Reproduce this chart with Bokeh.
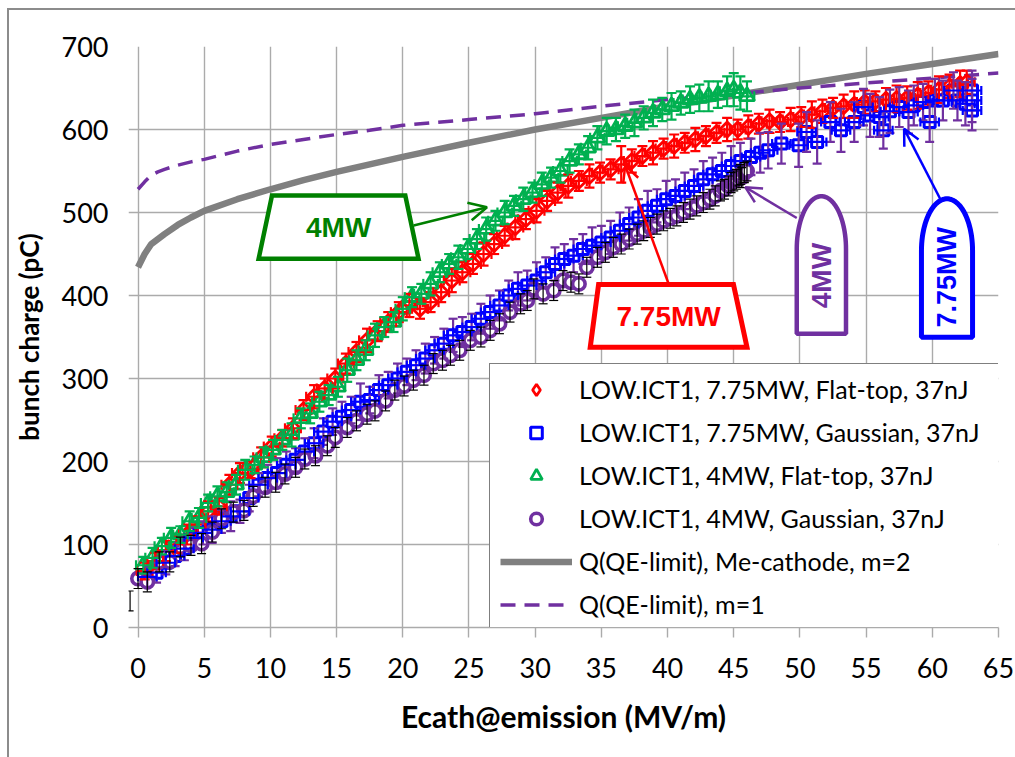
import numpy as np
from bokeh.plotting import figure
from bokeh.models import (ColumnDataSource, Whisker, TeeHead, Legend, LegendItem, Arrow,
                          OpenHead, FixedTicker, Range1d)
from bokeh.core.properties import value
from bokeh.embed import file_html
from bokeh.resources import INLINE

# ---------------- data ----------------
x_ticks = [0, 5, 10, 15, 20, 25, 30, 35, 40, 45, 50, 55, 60, 65]
y_ticks = [0, 100, 200, 300, 400, 500, 600, 700]

red_label = "LOW.ICT1, 7.75MW, Flat-top, 37nJ"
red_x = [0.5, 1.3, 2.1, 2.9, 3.7, 4.5, 5.3, 6.1, 6.9, 7.7,
         8.5, 9.3, 10.1, 10.9, 11.7, 12.5, 13.3, 14.1, 14.9, 15.7,
         16.5, 17.3, 18.1, 18.9, 19.7, 20.5, 21.3, 22.1, 22.9, 23.7,
         24.5, 25.3, 26.1, 26.9, 27.7, 28.5, 29.3, 30.1, 30.9, 31.7,
         32.5, 33.3, 34.1, 34.9, 35.7, 36.5, 37.3, 38.1, 38.9, 39.7,
         40.5, 41.3, 42.1, 42.9, 43.7, 44.5, 45.3, 46.1, 46.9, 47.7,
         48.5, 49.3, 50.1, 50.9, 51.7, 52.5, 53.3, 54.1, 54.9, 55.7,
         56.5, 57.3, 58.1, 58.9, 59.7, 60.5, 61.3, 62.1, 62.6]
red_y = [68, 80, 92, 100, 112, 124, 140, 146, 172, 186,
         190, 205, 218, 228, 240, 262, 278, 288, 300, 318,
         332, 346, 357, 368, 380, 388, 384, 392, 404, 418,
         428, 438, 450, 462, 472, 482, 492, 502, 514, 524,
         532, 538, 544, 548, 552, 558, 562, 568, 572, 577,
         580, 584, 588, 592, 596, 600, 600, 603, 607, 610,
         609, 612, 615, 618, 622, 626, 628, 630, 633, 634,
         636, 637, 638, 641, 644, 648, 652, 655, 657]
red_dy = [10, 10, 12, 10, 12, 10, 12, 10, 12, 12,
          10, 12, 12, 10, 12, 12, 14, 12, 12, 12,
          12, 14, 12, 12, 12, 14, 12, 12, 12, 14,
          12, 12, 14, 12, 12, 14, 12, 14, 12, 12,
          14, 12, 14, 12, 12, 22, 14, 12, 14, 12,
          14, 12, 14, 12, 12, 14, 12, 14, 12, 14,
          12, 14, 12, 16, 14, 12, 14, 16, 14, 12,
          14, 16, 14, 16, 14, 16, 14, 16, 14]
red_dx = 0.6

blue_label = "LOW.ICT1, 7.75MW, Gaussian, 37nJ"
blue_x = [0.7, 1.4, 2.1, 2.8, 3.5, 4.2, 4.9, 5.6, 6.3, 7.0,
          7.7, 8.4, 9.1, 9.8, 10.5, 11.2, 11.9, 12.6, 13.3, 14.0,
          14.7, 15.4, 16.1, 16.8, 17.5, 18.2, 18.9, 19.6, 20.3, 21.0,
          21.7, 22.4, 23.1, 23.8, 24.5, 25.2, 25.9, 26.6, 27.3, 28.0,
          28.7, 29.4, 30.1, 30.8, 31.5, 32.2, 32.9, 33.6, 34.3, 35.0,
          35.7, 36.4, 37.1, 37.8, 38.5, 39.2, 39.9, 40.6, 41.3, 42.0,
          42.7, 43.4, 44.1, 44.8, 45.5, 46.3, 47.0, 47.6, 48.6, 49.9,
          50.5, 51.3, 52.3, 53.1, 54.1, 54.8, 55.3, 56.0, 56.3, 56.8,
          57.5, 58.2, 58.6, 59.3, 59.8, 60.2, 60.8, 61.6, 61.9, 62.5,
          63.0, 63.0, 63.0]
blue_y = [61, 66, 78, 86, 95, 108, 114, 118, 128, 134,
          140, 156, 172, 180, 186, 196, 202, 212, 222, 236,
          248, 254, 262, 272, 274, 286, 292, 300, 308, 316,
          324, 334, 342, 352, 356, 362, 372, 380, 388, 400,
          408, 412, 418, 428, 438, 444, 448, 456, 460, 464,
          470, 478, 486, 494, 502, 508, 516, 520, 526, 532,
          540, 546, 550, 556, 562, 567, 572, 575, 583, 581,
          597, 585, 609, 599, 609, 627, 617, 615, 599, 622,
          627, 621, 629, 633, 609, 635, 635, 647, 635, 631,
          647, 635, 623]
blue_dy = [12, 12, 14, 12, 14, 12, 14, 16, 14, 18,
           14, 16, 14, 16, 18, 16, 14, 16, 18, 16,
           16, 18, 16, 22, 16, 18, 16, 18, 16, 18,
           18, 16, 18, 20, 18, 16, 18, 20, 18, 18,
           20, 18, 22, 18, 20, 18, 20, 18, 22, 20,
           20, 22, 20, 22, 24, 20, 22, 20, 22, 20,
           22, 20, 22, 24, 22, 22, 24, 22, 24, 26,
           24, 26, 24, 26, 24, 22, 26, 24, 22, 26,
           24, 26, 24, 22, 24, 26, 24, 22, 24, 26,
           24, 26, 24]
blue_dx = 0.7

green_label = "LOW.ICT1, 4MW, Flat-top, 37nJ"
green_x = [0.4, 1.1, 1.8, 2.5, 3.2, 3.9, 4.6, 5.3, 6.0, 6.7,
           7.4, 8.1, 8.8, 9.5, 10.2, 10.9, 11.6, 12.3, 13.0, 13.7,
           14.4, 15.1, 15.8, 16.5, 17.2, 17.9, 18.6, 19.3, 20.0, 20.7,
           21.4, 22.1, 22.8, 23.5, 24.2, 24.9, 25.6, 26.3, 27.0, 27.7,
           28.4, 29.1, 29.8, 30.5, 31.2, 31.9, 32.6, 33.3, 34.0, 34.7,
           35.4, 36.1, 36.8, 37.5, 38.2, 38.9, 39.6, 40.3, 41.0, 41.7,
           42.4, 43.1, 43.8, 44.5, 45.0, 45.5, 46.0]
green_y = [75, 84, 98, 108, 112, 128, 132, 150, 158, 163,
           172, 190, 196, 205, 214, 226, 232, 252, 258, 272,
           280, 290, 310, 322, 334, 352, 362, 368, 384, 398,
           402, 414, 428, 438, 446, 456, 468, 480, 490, 500,
           508, 516, 524, 534, 542, 550, 562, 570, 578, 590,
           598, 600, 604, 608, 614, 620, 624, 628, 632, 636,
           638, 640, 642, 646, 648, 644, 640]
green_dy = [10, 12, 10, 12, 10, 12, 12, 10, 12, 12,
            12, 12, 10, 12, 12, 12, 14, 12, 12, 12,
            12, 12, 14, 12, 12, 14, 12, 12, 14, 12,
            12, 14, 12, 12, 14, 12, 12, 14, 12, 14,
            12, 14, 12, 14, 12, 14, 14, 12, 14, 14,
            16, 14, 14, 16, 14, 16, 14, 16, 14, 16,
            16, 18, 16, 18, 20, 20, 18]
green_dx = 0.55

purple_label = "LOW.ICT1, 4MW, Gaussian, 37nJ"
purple_x = [0.0, 0.7, 1.6, 2.4, 3.2, 4.0, 4.8, 5.6, 6.3, 7.2,
            8.0, 8.7, 9.6, 10.4, 11.1, 11.9, 12.6, 13.4, 14.3, 14.9,
            15.8, 16.5, 17.3, 17.9, 18.7, 19.4, 20.1, 20.8, 21.6, 22.3,
            23.0, 23.6, 24.3, 25.1, 25.9, 26.6, 27.3, 28.1, 28.9, 29.4,
            29.9, 30.6, 31.4, 32.1, 32.7, 33.3, 33.9, 34.7, 35.3, 35.9,
            36.5, 37.1, 37.7, 38.2, 38.7, 39.2, 39.7, 40.2, 40.7, 41.2,
            41.7, 42.2, 42.7, 43.2, 43.6, 44.0, 44.3, 44.6, 44.8, 45.0,
            45.2, 45.4, 45.5, 45.6, 45.8, 46.0]
purple_y = [59, 55, 79, 79, 97, 99, 101, 115, 131, 139,
            141, 158, 169, 175, 185, 193, 203, 207, 219, 229,
            241, 249, 257, 261, 273, 286, 291, 298, 304, 318,
            322, 328, 334, 346, 350, 358, 366, 380, 390, 394,
            408, 402, 406, 418, 416, 414, 434, 446, 452, 458,
            462, 468, 474, 478, 482, 486, 490, 493, 496, 500,
            504, 508, 512, 516, 520, 526, 528, 532, 536, 538,
            540, 544, 546, 542, 548, 550]
purple_dy = 12

stray_x = [-0.6]
stray_lo = [20]
stray_hi = [44]

gray_label = "Q(QE-limit), Me-cathode, m=2"
gray_x = [0, 0.5, 1, 1.5, 2, 3, 4, 5, 7.5, 10, 12.5, 15, 20, 25, 30, 35, 40, 45, 50, 55, 60, 65]
gray_y = [434, 450, 462, 468, 474, 485, 494, 502, 516, 528, 539, 549, 567, 584, 600, 614,
          628, 641, 654, 667, 679, 691]

dash_label = "Q(QE-limit), m=1"
dash_x = [0, 0.5, 1, 1.5, 2, 3, 4, 5, 7.5, 10, 12.5, 15, 17.5, 20, 25, 30, 35, 40, 45, 50,
          55, 60, 65]
dash_y = [528, 537, 545, 549, 552, 557, 561, 564, 574, 582, 588, 594, 599, 605, 612, 619,
          628, 636, 643, 650, 656, 662, 668]

# ---------------- styles ----------------
RED = "#FF0000"
BLUE = "#0000FF"
GREEN = "#00B050"
PURPLE = "#7030A0"
DKGREEN = "#008000"
GRAY = "#808080"
GRID = "#ABABAB"
FONT = "Lato"
AFONT = "Liberation Sans"

# the chart sits inside a thin gray chart border whose left/top edges start at (7, 8)
p = figure(frame_width=870, frame_height=581,
           min_border_left=119, min_border_right=17, min_border_top=36, min_border_bottom=130,
           x_range=Range1d(-0.72, 65), y_range=Range1d(0, 700),
           output_backend="svg", toolbar_location=None, background_fill_color="white",
           border_fill_color="white")
p.styles = {"margin-left": "7px", "margin-top": "8px",
            "border-left": "2px solid #8C8C8C", "border-top": "2px solid #8C8C8C"}
p.outline_line_color = None

p.xaxis.ticker = FixedTicker(ticks=x_ticks)
p.yaxis.ticker = FixedTicker(ticks=y_ticks)
p.xgrid.grid_line_color = GRID
p.ygrid.grid_line_color = GRID
p.xgrid.grid_line_width = 1.4
p.ygrid.grid_line_width = 1.4

for ax in (p.xaxis[0], p.yaxis[0]):
    ax.major_label_text_font = FONT
    ax.major_label_text_font_size = "27px"
    ax.major_label_text_color = "black"
    ax.axis_label_text_font = FONT
    ax.axis_label_text_font_style = "bold"
    ax.axis_label_text_color = "black"
    ax.minor_tick_line_color = None

p.xaxis.axis_label = "Ecath@emission (MV/m)"
p.xaxis.axis_label_text_font_size = "30px"
p.xaxis.axis_line_color = GRID
p.xaxis.axis_line_width = 1.4
p.xaxis.major_tick_line_color = GRID
p.xaxis.major_tick_line_width = 1.4
p.xaxis.major_tick_out = 10
p.xaxis.major_tick_in = 0
p.xaxis.major_label_standoff = 20
p.xaxis.axis_label_standoff = 17

p.yaxis.axis_label = "bunch charge (pC)"
p.yaxis.axis_label_text_font_size = "26px"
p.yaxis.axis_line_color = None
p.yaxis.major_tick_line_color = None
p.yaxis.major_tick_out = 0
p.yaxis.major_tick_in = 0
p.yaxis.major_label_standoff = 20
p.yaxis.axis_label_standoff = 14

# ---------------- QE limit curves ----------------
r_gray = p.line(gray_x, gray_y, line_color=GRAY, line_width=6.5)
r_dash = p.line(dash_x, dash_y, line_color=PURPLE, line_width=3.5, line_dash="15 9")


def errbars(x, y, dx, dy, hcolor, vcolor, cap=9, lw=2):
    x = np.asarray(x, float)
    y = np.asarray(y, float)
    dy = np.asarray(dy, float) * np.ones_like(y)
    src = ColumnDataSource(dict(x=x, y=y, yl=y - dy, yu=y + dy,
                                xl=x - dx if dx else x, xu=x + dx if dx else x))
    wv = Whisker(source=src, base="x", lower="yl", upper="yu", dimension="height",
                 line_color=vcolor, line_width=lw, level="glyph",
                 upper_head=TeeHead(size=cap, line_color=vcolor, line_width=lw),
                 lower_head=TeeHead(size=cap, line_color=vcolor, line_width=lw))
    p.add_layout(wv)
    if dx:
        wh = Whisker(source=src, base="y", lower="xl", upper="xu", dimension="width",
                     line_color=hcolor, line_width=lw, level="glyph",
                     upper_head=TeeHead(size=cap, line_color=hcolor, line_width=lw),
                     lower_head=TeeHead(size=cap, line_color=hcolor, line_width=lw))
        p.add_layout(wh)


# stray black error bar at the left edge
stray_src = ColumnDataSource(dict(x=stray_x, lo=stray_lo, hi=stray_hi))
p.add_layout(Whisker(source=stray_src, base="x", lower="lo", upper="hi", dimension="height",
                     line_color="black", line_width=1.2, level="glyph",
                     upper_head=TeeHead(size=7, line_color="black", line_width=1.2),
                     lower_head=TeeHead(size=7, line_color="black", line_width=1.2)))

errbars(red_x, red_y, red_dx, red_dy, RED, RED, cap=10, lw=2.2)
r_red = p.scatter(red_x, red_y, marker="square", angle=np.pi / 4, size=10.5,
                  fill_color="white", line_color=RED, line_width=2.8)

errbars(blue_x, blue_y, blue_dx, blue_dy, BLUE, PURPLE, cap=9, lw=2.2)
r_blue = p.scatter(blue_x, blue_y, marker="square", size=11,
                   fill_color="white", line_color=BLUE, line_width=3)

errbars(green_x, green_y, green_dx, green_dy, GREEN, GREEN, cap=10, lw=2.2)
r_green = p.scatter(green_x, green_y, marker="triangle", size=15,
                    fill_color="white", line_color=GREEN, line_width=2.8)

errbars(purple_x, purple_y, 0, purple_dy, "black", "black", cap=9, lw=1.2)
r_purple = p.scatter(purple_x, purple_y, marker="circle", size=12.5,
                     fill_color="white", line_color=PURPLE, line_width=3.6)

# proxy used only for the legend swatch of the diamond series (outside the visible range)
r_red_leg = p.scatter([-50], [-50], marker="diamond", size=12,
                      fill_color="white", line_color=RED, line_width=2.8)

# ---------------- annotations ----------------
# green "4MW" trapezoid
p.patch([10.12, 20.19, 21.19, 9.11], [520.5, 520.5, 444.2, 444.2],
        fill_color="white", line_color=DKGREEN, line_width=4.5, line_join="miter")
p.text([15.15], [482.3], text=["4MW"], text_font=value(AFONT), text_font_style="bold",
       text_font_size="28px", text_color=DKGREEN, text_align="center", text_baseline="middle")
p.add_layout(Arrow(x_start=20.82, y_start=484.3, x_end=26.36, y_end=506.4,
                   line_color=DKGREEN, line_width=2.5,
                   end=OpenHead(size=18, line_color=DKGREEN, line_width=2.5)))

# red "7.75MW" trapezoid
p.patch([34.79, 44.98, 46.0, 34.16], [413.3, 413.3, 337.7, 337.7],
        fill_color="white", line_color=RED, line_width=5, line_join="miter")
p.text([40.08], [374.5], text=["7.75MW"], text_font=value(AFONT), text_font_style="bold",
       text_font_size="28px", text_color=RED, text_align="center", text_baseline="middle")
p.add_layout(Arrow(x_start=40.08, y_start=414.1, x_end=36.8, y_end=556.6,
                   line_color=RED, line_width=2.5,
                   end=OpenHead(size=16, line_color=RED, line_width=2.5)))


def capsule(x0, x1, yb, ys, yt, n=48):
    cx = (x0 + x1) / 2.0
    a = (x1 - x0) / 2.0
    b = yt - ys
    t = np.linspace(0, np.pi, n)
    xs = [x1] + list(cx + a * np.cos(t)) + [x0]
    ys_ = [yb] + list(ys + b * np.sin(t)) + [yb]
    return xs, ys_


# purple "4MW" capsule
cx_, cy_ = capsule(49.76, 53.48, 353.9, 456.0, 519.6)
p.patch(cx_, cy_, fill_color="white", line_color=PURPLE, line_width=4.5)
p.text([51.62], [424.0], text=["4MW"], angle=np.pi / 2, text_font=value(AFONT),
       text_font_style="bold", text_font_size="28px", text_color=PURPLE,
       text_align="center", text_baseline="middle")
p.add_layout(Arrow(x_start=49.76, y_start=493.4, x_end=45.87, y_end=530.5,
                   line_color=PURPLE, line_width=2.5,
                   end=OpenHead(size=16, line_color=PURPLE, line_width=2.5)))

# blue "7.75MW" capsule
cx_, cy_ = capsule(59.18, 63.04, 349.8, 454.0, 516.5)
p.patch(cx_, cy_, fill_color="white", line_color=BLUE, line_width=5)
p.text([61.11], [422.0], text=["7.75MW"], angle=np.pi / 2, text_font=value(AFONT),
       text_font_style="bold", text_font_size="27px", text_color=BLUE,
       text_align="center", text_baseline="middle")
p.add_layout(Arrow(x_start=60.6, y_start=516.3, x_end=57.87, y_end=600.8,
                   line_color=BLUE, line_width=2.5,
                   end=OpenHead(size=16, line_color=BLUE, line_width=2.5)))

# ---------------- legend ----------------
legend = Legend(items=[LegendItem(label=red_label, renderers=[r_red_leg]),
                       LegendItem(label=blue_label, renderers=[r_blue]),
                       LegendItem(label=green_label, renderers=[r_green]),
                       LegendItem(label=purple_label, renderers=[r_purple]),
                       LegendItem(label=gray_label, renderers=[r_gray]),
                       LegendItem(label=dash_label, renderers=[r_dash])],
                location=(361, -3), padding=10, spacing=13, label_height=29, glyph_height=29,
                glyph_width=72, label_standoff=7, label_width=420, margin=0,
                label_text_font=FONT, label_text_font_size="25px", label_text_color="black",
                border_line_color="black", border_line_width=1.3,
                background_fill_color="white", background_fill_alpha=1.0)
p.add_layout(legend)

open("out.html", "w").write(file_html(p, INLINE))
